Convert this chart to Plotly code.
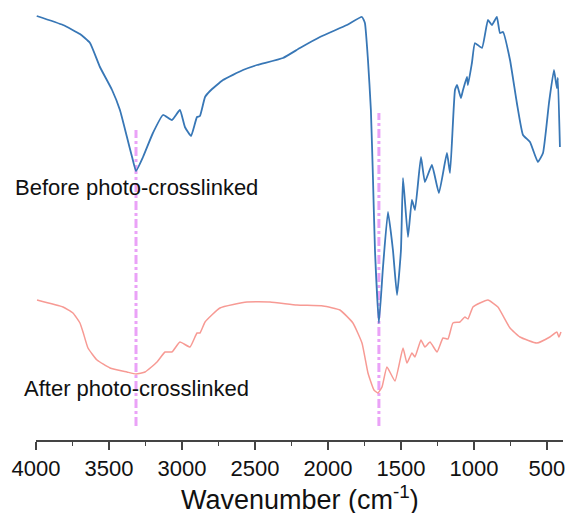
import plotly.graph_objects as go

# FTIR spectra (wavenumber in cm-1, transmittance in arbitrary units)
before_wn = [3995, 3815, 3699, 3630, 3562, 3479, 3425, 3377, 3342, 3315, 3267, 3199,
             3130, 3069, 3014, 2980, 2938, 2897, 2877, 2842, 2808, 2719, 2582, 2486,
             2308, 2192, 2055, 1870, 1767, 1747, 1726, 1706, 1692, 1678, 1651, 1623,
             1589, 1555, 1527, 1500, 1486, 1452, 1425, 1404, 1363, 1336, 1288, 1240,
             1185, 1164, 1130, 1116, 1089, 1075, 1048, 1041, 1014, 993, 945, 904, 877,
             843, 822, 801, 753, 706, 664, 616, 562, 527, 486, 452, 432, 425, 411]
before_t = [424, 415, 406, 397, 373, 350, 330, 303, 283, 269, 283, 307,
            325, 320, 330, 313, 304, 323, 324, 343, 349, 360, 370, 375,
            382, 392, 403, 415, 423, 417, 380, 330, 263, 190, 117, 173,
            228, 190, 145, 190, 262, 203, 240, 230, 283, 258, 275, 247,
            287, 267, 350, 355, 342, 350, 363, 355, 377, 397, 392, 420, 415,
            423, 407, 408, 380, 337, 305, 298, 278, 287, 337, 370, 352, 362, 293]

after_wn = [3993, 3815, 3747, 3699, 3678, 3644, 3582, 3493, 3377, 3315, 3253, 3171,
            3116, 3069, 3014, 2945, 2897, 2877, 2842, 2740, 2555, 2397, 2212, 2034,
            1918, 1829, 1767, 1726, 1685, 1658, 1630, 1596, 1541, 1486, 1459, 1425,
            1404, 1363, 1336, 1301, 1253, 1212, 1178, 1144, 1096, 1062, 1041, 1007,
            959, 904, 836, 753, 685, 569, 480, 432, 418, 404]
after_t = [140, 133, 127, 117, 108, 92, 80, 72, 68, 66, 68, 78,
           88, 88, 98, 93, 107, 107, 118, 132, 138, 138, 135, 134,
           130, 117, 97, 67, 50, 47, 53, 73, 59, 92, 77, 87,
           83, 100, 93, 98, 88, 102, 101, 117, 118, 123, 121, 133,
           137, 140, 133, 112, 103, 97, 103, 108, 103, 108]

# marked bands
band_wn = [3315, 1651]
band_top = [310, 327]

labels = ["Before photo-crosslinked", "After photo-crosslinked"]
label_y = [253, 52]

fig = go.Figure()
fig.add_trace(go.Scatter(x=before_wn, y=before_t, mode="lines",
                         line=dict(color="#3877b6", width=1.8, shape="spline", smoothing=0.4),
                         showlegend=False))
fig.add_trace(go.Scatter(x=after_wn, y=after_t, mode="lines",
                         line=dict(color="#f79a94", width=1.5, shape="spline", smoothing=0.4),
                         showlegend=False))

for wn, top in zip(band_wn, band_top):
    fig.add_shape(type="line", x0=wn, x1=wn, y0=14, y1=top, xref="x", yref="y",
                  line=dict(color="#eaa2f7", width=3, dash="dashdot"), layer="below")

for text, y in zip(labels, label_y):
    fig.add_annotation(x=band_wn[0], y=y, text=text, showarrow=False,
                       xanchor="center", yanchor="middle",
                       font=dict(size=22, color="#111111"))

# axis title placed by hand so the margins stay fixed
fig.add_annotation(x=0.5, y=-0.135, xref="paper", yref="paper",
                   text="Wavenumber (cm<sup>-1</sup>)", showarrow=False,
                   xanchor="center", yanchor="middle",
                   font=dict(size=27, color="#111111"))

fig.update_layout(
    width=568, height=513,
    margin=dict(l=36, r=5, t=10, b=73),
    plot_bgcolor="white", paper_bgcolor="white",
    font=dict(family="Arial, Liberation Sans, sans-serif", color="#111111"),
)
fig.update_xaxes(
    range=[4000, 390], tickvals=[4000, 3500, 3000, 2500, 2000, 1500, 1000, 500],
    ticks="outside", ticklen=8, tickwidth=1.5, tickcolor="#444444",
    minor=dict(ticks="outside", ticklen=4, tickwidth=1.2, dtick=250, tickcolor="#444444"),
    showline=True, linecolor="#444444", linewidth=1.5, showgrid=False, zeroline=False,
    tickfont=dict(size=22), automargin=False,
)
fig.update_yaxes(range=[0, 430], visible=False)

# drop the browser's default body margin so the figure fills the window
fig.write_html("out.html", config={"displayModeBar": False},
               post_script="document.body.style.margin='0';document.body.style.overflow='hidden';")
